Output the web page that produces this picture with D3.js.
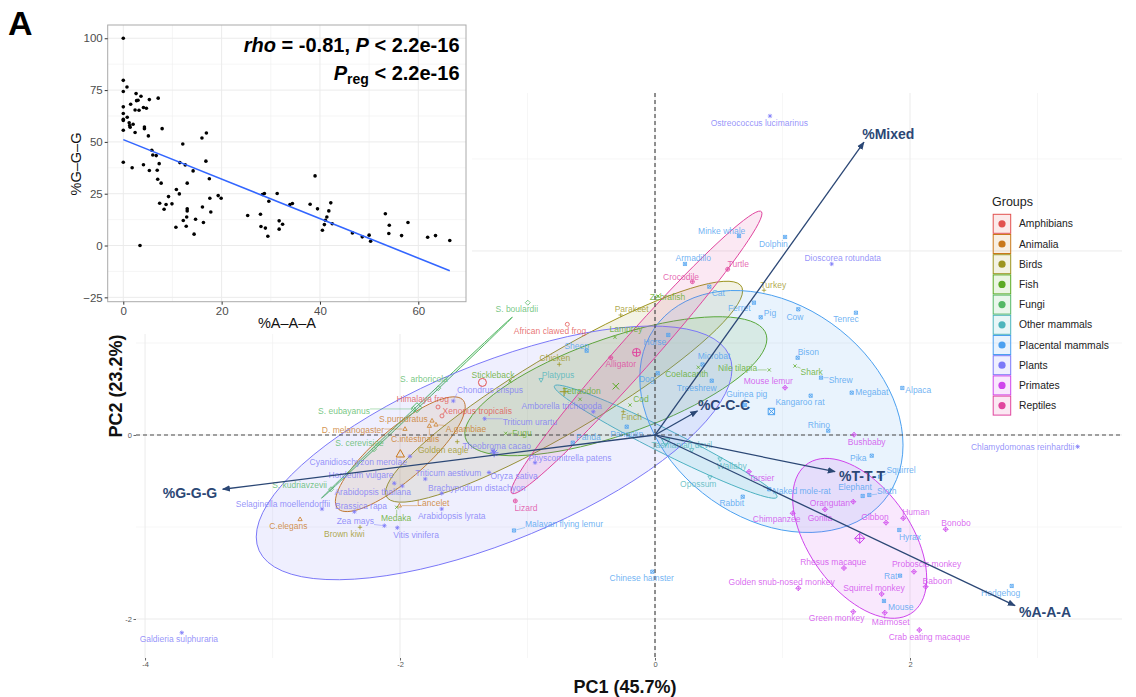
<!DOCTYPE html>
<html>
<head>
<meta charset="utf-8">
<title>PCA biplot of codon-repeat composition</title>
<script src="https://cdn.jsdelivr.net/npm/d3@7/dist/d3.min.js"></script>
<style>
  html, body { margin: 0; padding: 0; background: #fff; }
  svg { display: block; font-family: "Liberation Sans", Arial, Helvetica, sans-serif; }
</style>
</head>
<body>
<svg id="fig" width="1136" height="697"></svg>
<script>
// ---------------- data ----------------
const groupNames = ["Amphibians", "Animalia", "Birds", "Fish", "Fungi", "Other mammals",
  "Placental mammals", "Plants", "Primates", "Reptiles"];
const groupColours = ["#E2524F", "#C9781B", "#9C9420", "#5BAA23", "#55B866", "#4DB5BC",
  "#4BA0F0", "#7B78F8", "#CF45EC", "#E0459E"];
const groupShapes = [1, 2, 3, 4, 5, 6, 7, 8, 9, 10];   // ggplot shape codes

const speciesName = [
  "Himalaya frog", "Xenopus tropicalis", "African clawed frog",
  "S.purpuratus", "D. melanogaster", "A.gambiae", "C.intestinalis", "Lancelet", "C.elegans",
  "Golden eagle", "Brown kiwi", "Chicken", "Parakeet", "Finch", "Turkey",
  "Stickleback", "Fugu", "Medaka", "Tetraodon", "Zebrafish", "Lamprey", "Coelacanth", "Cod", "Nile tilapia", "Shark",
  "S. boulardii", "S. arboricola", "S. eubayanus", "S. cerevisiae", "S. kudriavzevii",
  "Platypus", "Tasmanian devil", "Wallaby", "Opossum",
  "Malayan flying lemur", "Panda", "Sheep", "Horse", "Dog", "Microbat", "Treeshrew", "Pangolin", "Rabbit",
  "Naked mole-rat", "Elephant", "Sloth", "Squirrel", "Pika", "Hyrax", "Rat", "Mouse", "Hedgehog",
  "Chinese hamster", "Minke whale", "Dolphin", "Armadillo", "Cat", "Ferret", "Pig", "Cow", "Tenrec",
  "Bison", "Shrew", "Megabat", "Alpaca", "Guinea pig", "Kangaroo rat", "Rhino",
  "Chondrus crispus", "Cyanidioschyzon merolae", "Triticum aestivum", "Oryza sativa", "Hordeum vulgare",
  "Arabidopsis thaliana", "Brachypodium distachyon", "Selaginella moellendorffii", "Brassica rapa",
  "Arabidopsis lyrata", "Zea mays", "Vitis vinifera", "Theobroma cacao", "Triticum urartu",
  "Amborella trichopoda", "Physcomitrella patens", "Ostreococcus lucimarinus", "Dioscorea rotundata",
  "Chlamydomonas reinhardtii", "Galdieria sulphuraria",
  "Tarsier", "Chimpanzee", "Gorilla", "Orangutan", "Bushbaby", "Mouse lemur", "Gibbon", "Human", "Bonobo",
  "Rhesus macaque", "Proboscis monkey", "Baboon", "Golden snub-nosed monkey", "Squirrel monkey",
  "Green monkey", "Marmoset", "Crab eating macaque",
  "Crocodile", "Turtle", "Alligator", "Lizard"
];
const speciesGroup = [
  ...Array(3).fill("Amphibians"), ...Array(6).fill("Animalia"), ...Array(6).fill("Birds"),
  ...Array(10).fill("Fish"), ...Array(5).fill("Fungi"), ...Array(4).fill("Other mammals"),
  ...Array(34).fill("Placental mammals"), ...Array(20).fill("Plants"), ...Array(17).fill("Primates"),
  ...Array(4).fill("Reptiles")
];
const pc1 = [
  -1.702, -1.671, -0.688,
  -1.749, -1.961, -1.718, -1.770, -2.005, -2.784,
  -1.551, -2.314, -0.751, -0.269, -0.249, 0.855,
  -1.137, -1.171, -2.026, -0.588, 0.024, -0.314, 0.340, -0.196, 0.896, 1.098,
  -0.998, -1.700, -1.894, -2.204, -2.541,
  -0.894, 0.288, 0.510, 0.431,
  -1.106, -0.645, -0.536, 0.104, 0.021, 0.373, 0.445, -0.222, 0.688,
  0.896, 1.629, 1.681, 1.765, 1.700, 1.916, 1.922, 1.796, 2.798,
  -0.021, 0.659, 1.020, 0.235, 0.426, 0.776, 0.829, 1.124, 1.576,
  1.119, 1.302, 1.543, 1.940, 0.706, 1.221, 1.359,
  -1.582, -1.922, -1.802, -1.302, -2.045,
  -1.982, -1.673, -2.612, -2.358,
  -1.673, -2.123, -2.021, -1.271, -1.336,
  -0.484, -0.941, 0.902, 1.386,
  3.315, -3.712,
  0.737, 1.080, 1.333, 1.555, 1.561, 1.020, 1.812, 1.947, 2.280,
  1.482, 2.031, 2.123, 1.124, 1.778,
  1.555, 1.802, 2.073,
  0.293, 0.570, -0.347, -1.096
];
const pc2 = [
  0.304, 0.207, 1.203,
  0.155, 0.065, 0.112, 0.098, -0.768, -0.916,
  -0.073, -1.003, 0.768, 1.304, 0.253, 1.573,
  0.587, 0.018, -0.786, 0.388, 1.511, 1.062, 0.736, 0.326, 0.707, 0.750,
  1.438, 0.508, 0.283, -0.155, -0.590,
  0.598, -0.163, -0.264, -0.460,
  -1.038, -0.084, 0.916, 1.087, 0.671, 0.766, 0.590, 0.090, -0.671,
  -0.590, -0.663, -0.652, -0.453, -0.225, -1.033, -1.529, -1.804, -1.641,
  -1.486, 2.163, 2.152, 1.859, 1.612, 1.438, 1.279, 1.366, 1.329,
  0.840, 0.623, 0.460, 0.511, 0.326, 0.427, 0.047,
  0.370, -0.232, -0.478, -0.408, -0.525,
  -0.554, -0.634, -0.804, -0.834,
  -0.804, -0.986, -1.008, -0.174, 0.177,
  0.253, -0.301, 3.467, 1.859,
  -0.127, -2.149,
  -0.399, -0.851, -0.808, -0.725, 0.003, 0.514, -0.953, -0.905, -1.025,
  -1.446, -1.486, -1.649, -1.666, -1.728,
  -1.921, -1.932, -2.120,
  1.666, 1.801, 0.840, -0.717
];

// variable loadings drawn as arrows
const variableName = ["%Mixed", "%C-C-C", "%T-T-T", "%A-A-A", "%G-G-G"];
const variablePC1 = [1.639, 0.333, 1.412, 2.824, -3.391];
const variablePC2 = [3.182, 0.261, -0.399, -1.855, -0.590];

// inset scatter: %A-A-A vs %G-G-G
const pctAAA = [0, 0, 0, 0.75, 0, 0, 0, 0, 0, 0.8, 1.5, 1.2, 1.3, 1.4, 2.0, 2.4, 2.6, 2.7, 3.0, 2.4,
  3.2, 3.6, 4.1, 4.7, 4.3, 4.3, 5.3, 5.1, 7.1, 7.9,
  0, 1.8, 4.1, 5.8, 6.0, 6.7, 7.3, 5.3, 6.9, 7.0, 7.7, 7.4, 8.3, 8.7, 9.2, 9.9, 10.7, 10.8, 11.4, 11.5,
  12.1, 12.2, 12.6, 12.9, 12.8, 13.0, 13.0, 13.0, 14.2, 14.4, 14.7, 16.0, 16.1, 16.3, 16.9, 16.8, 17.5,
  17.6, 17.8, 19.3, 19.9,
  3.4, 25.3, 27.9, 28.0, 28.3, 28.7, 28.9, 29.4, 29.6, 31.3, 31.7, 31.7, 32.4, 33.9, 34.4, 38.0, 39.0,
  39.5, 40.5, 40.9, 41.1, 41.4, 41.8, 42.2, 42.5, 46.6, 48.6, 50.0, 50.3, 53.3, 54.1, 54.0, 56.6, 57.9,
  61.9, 63.5, 66.4];
const pctGGG = [100, 79.7, 74.3, 76.5, 66.9, 63.7, 60.9, 60.3, 55.6, 61.9, 68.2, 59.2, 57.9, 57.1, 58.5,
  54.5, 73.3, 69.9, 70.1, 65.4, 65.3, 72, 66.6, 66.2, 57.2, 56.4, 70.4, 52.9, 71.1, 56.4,
  40.2, 37.5, 39, 46, 43.7, 43.4, 39.5, 36.2, 36.3, 32, 30.1, 20.4, 17.5, 19.8, 23.6, 20.1, 8.8, 27, 24.9,
  40, 49, 12.1, 38.9, 13.8, 9.3, 30.1, 17.7, 16.7, 36, 5.5, 12.7, 51.9, 18.6, 11.1, 54.3, 40.7, 32.2,
  22.8, 16.2, 24.1, 22.8,
  0, 14.5, 15.1, 9.2, 24.6, 25.1, 8.4, 4.5, 21.4, 25.1, 11.9, 7.9, 10.3, 19.8, 20.3, 19.9, 33.6, 17.7,
  7.4, 10.1, 12.2, 13.8, 16.7, 20.6, 10.5, 6.1, 4.2, 5, 2.1, 15.3, 9.8, 5.8, 4.8, 11.1, 4, 4.8, 2.4];
const fitIntercept = 51.1;
const fitSlope = -0.953;

const xTicksMain = [-4, -2, 0, 2];
const yTicksMain = [-2, 0, 2];
const xTicksInset = [0, 20, 40, 60];
const yTicksInset = [-25, 0, 25, 50, 75, 100];

// label placement (pixel nudges from each point, repel-style)
const labelNudge = {
  "Himalaya frog": [-15.3, -8], "Xenopus tropicalis": [35.3, -5.3], "African clawed frog": [-17.3, 6.7],
  "S.purpuratus": [-28.7, -2], "D. melanogaster": [-52, 1], "A.gambiae": [30, 4.3], "C.intestinalis": [-14.3, 13],
  "Lancelet": [34, -2.4], "C.elegans": [-11.7, 6.4],
  "Golden eagle": [-14, 8.3], "Brown kiwi": [-15.7, 6.7], "Chicken": [-4.3, -6], "Parakeet": [11, -5.7],
  "Finch": [8.4, 5.6], "Turkey": [9.3, -5.3],
  "Stickleback": [-17, -6], "Fugu": [16.3, -0.3], "Medaka": [-0.7, 10.7], "Tetraodon": [1.7, -8.3],
  "Zebrafish": [9.5, 1.3], "Lamprey": [11, -8], "Coelacanth": [-11.6, 6.7], "Cod": [11, -6],
  "Nile tilapia": [-31.6, -2.3], "Shark": [16.7, 5.7],
  "S. boulardii": [-11, 6.6], "S. arboricola": [-14.3, -9.3], "S. eubayanus": [-69.5, 1.7],
  "S. cerevisiae": [-14.5, -6], "S. kudriavzevii": [-31.5, -4.3],
  "Platypus": [17, -5], "Tasmanian devil": [-10, -5], "Wallaby": [11.7, 6.7], "Opossum": [-11.7, 7],
  "Malayan flying lemur": [50, -6.5], "Panda": [15.6, -6], "Sheep": [-10, -5], "Horse": [-13.3, 6.7],
  "Dog": [-11, 5.7], "Microbat": [11.5, -8.5], "Treeshrew": [-15, 7], "Pangolin": [0, 7.3], "Rabbit": [-11, 6.6],
  "Naked mole-rat": [32.4, 1.7], "Elephant": [-7.7, -9.3], "Sloth": [17.4, -4.3], "Squirrel": [21, -6.5],
  "Pika": [-13.4, 2.6], "Hyrax": [10.7, 6.7], "Rat": [-9.3, 0], "Mouse": [16.7, 5.7], "Hedgehog": [-11, 7.3],
  "Chinese hamster": [-10.6, 6.6], "Minke whale": [-17.3, -5.3], "Dolphin": [-11.7, 7], "Armadillo": [8.3, -5.7],
  "Cat": [9, 6], "Ferret": [-14.7, 5], "Pig": [9.3, -4], "Cow": [-3.3, 8], "Tenrec": [-10, 6.6],
  "Bison": [10.6, -5.7], "Shrew": [19.7, 2.3], "Megabat": [20, -0.4], "Alpaca": [16, 2], "Guinea pig": [1.7, -11],
  "Kangaroo rat": [-10.7, 6.6], "Rhino": [-9.3, -5.7],
  "Chondrus crispus": [36.7, -11], "Cyanidioschyzon merolae": [-51.7, 6], "Triticum aestivum": [23, -5.7],
  "Oryza sativa": [25, 3], "Hordeum vulgare": [-33.3, -8.3], "Arabidopsis thaliana": [-29.6, 6.3],
  "Brachypodium distachyon": [35, -5.6], "Selaginella moellendorffii": [-39, -5.3], "Brassica rapa": [6.7, -5.7],
  "Arabidopsis lyrata": [10, 6.7], "Zea mays": [-29, -4.7], "Vitis vinifera": [18.7, 7.3],
  "Theobroma cacao": [3.7, -5.3], "Triticum urartu": [45.3, 3.6], "Amborella trichopoda": [-31.6, -5.7],
  "Physcomitrella patens": [35, -5], "Ostreococcus lucimarinus": [-10.7, 7.3], "Dioscorea rotundata": [11, -5.7],
  "Chlamydomonas reinhardtii": [-55, 0.6], "Galdieria sulphuraria": [-2.9, 6.3],
  "Tarsier": [12.7, 6.6], "Chimpanzee": [-16, 6], "Gorilla": [-5, 9], "Orangutan": [-23.3, 1.6],
  "Bushbaby": [12.7, 7.6], "Mouse lemur": [-16.7, -6.7], "Gibbon": [-11, -6], "Human": [12.7, -6.6],
  "Bonobo": [10.3, -6], "Rhesus macaque": [-10.7, -5.7], "Proboscis monkey": [12.7, -7.4], "Baboon": [11.6, -6],
  "Golden snub-nosed monkey": [-16.6, -6], "Squirrel monkey": [-7.7, -5.7], "Green monkey": [-16.6, 6.6],
  "Marmoset": [6, 9.6], "Crab eating macaque": [10, 6.7],
  "Crocodile": [-11.3, -5], "Turtle": [10.6, -5.3], "Alligator": [10, 6.6], "Lizard": [10.7, 7]
};
const variableLabelNudge = [[24.3, -8], [26.5, -6], [27, 4], [30, 6], [-32.7, 3.4]];

// ---------------- drawing ----------------
const svg = d3.select("#fig");
const arrowColour = "#2B4775";
const ellipseLevel = 0.5;

const px = d3.scaleLinear().domain([-4.071, 3.663]).range([136, 1122]);
const py = d3.scaleLinear().domain([-2.424, 3.717]).range([658, 93]);
const [pxL, pxR] = px.range();
const [pyB, pyT] = py.range();

// ggplot point shapes 1..10 as outline paths
function shapePath(k, s) {
  const circle = r => `M${-r},0A${r},${r} 0 1,0 ${r},0A${r},${r} 0 1,0 ${-r},0Z`;
  const plus = r => `M${-r},0H${r}M0,${-r}V${r}`;
  const cross = r => `M${-r},${-r}L${r},${r}M${-r},${r}L${r},${-r}`;
  const diamond = r => `M0,${-r}L${r},0L0,${r}L${-r},0Z`;
  const d = s * 0.8;
  switch (k) {
    case 1: return circle(s);
    case 2: return `M0,${-s * 1.15}L${s * 1.05},${s * 0.7}L${-s * 1.05},${s * 0.7}Z`;
    case 3: return plus(s * 1.1);
    case 4: return cross(d);
    case 5: return diamond(s * 1.25);
    case 6: return `M0,${s * 1.15}L${s * 1.05},${-s * 0.7}L${-s * 1.05},${-s * 0.7}Z`;
    case 7: return `M${-d},${-d}H${d}V${d}H${-d}Z` + cross(d);
    case 8: return plus(s * 1.1) + cross(d);
    case 9: return diamond(s * 1.25) + plus(s * 1.25);
    default: return circle(s) + plus(s);
  }
}

// --- grid ---
const gGrid = svg.append("g");
[-3, -1, 1, 3].forEach(v => gGrid.append("line").attr("x1", px(v)).attr("x2", px(v))
  .attr("y1", pyT).attr("y2", pyB).attr("stroke", "#f2f2f2").attr("stroke-width", 0.7));
[-1, 1, 3].forEach(v => gGrid.append("line").attr("x1", pxL).attr("x2", pxR)
  .attr("y1", py(v)).attr("y2", py(v)).attr("stroke", "#f2f2f2").attr("stroke-width", 0.7));
xTicksMain.forEach(v => gGrid.append("line").attr("x1", px(v)).attr("x2", px(v))
  .attr("y1", pyT).attr("y2", pyB).attr("stroke", "#ebebeb").attr("stroke-width", 1));
yTicksMain.forEach(v => gGrid.append("line").attr("x1", pxL).attr("x2", pxR)
  .attr("y1", py(v)).attr("y2", py(v)).attr("stroke", "#ebebeb").attr("stroke-width", 1));

// --- group ellipses (normal, ggplot stat_ellipse style) ---
function qf2(p, d) { return (d / 2) * (Math.pow(1 - p, -2 / d) - 1); }
const centroids = [];
const gEll = svg.append("g");
groupNames.forEach((gname, gi) => {
  const idx = speciesGroup.map((g, i) => g === gname ? i : -1).filter(i => i >= 0);
  const n = idx.length;
  const xs = idx.map(i => pc1[i]), ys = idx.map(i => pc2[i]);
  const mx = d3.mean(xs), my = d3.mean(ys);
  centroids.push({ gi, mx, my });
  if (n - 1 < 3) return;
  const sxx = d3.sum(xs, v => (v - mx) ** 2) / (n - 1);
  const syy = d3.sum(ys, v => (v - my) ** 2) / (n - 1);
  const sxy = d3.sum(idx, (i, k) => (xs[k] - mx) * (ys[k] - my)) / (n - 1);
  const r = Math.sqrt(2 * qf2(ellipseLevel, n - 1));
  const R11 = Math.sqrt(sxx), R12 = sxy / R11, R22 = Math.sqrt(Math.max(syy - R12 * R12, 0));
  const pts = d3.range(80).map(k => {
    const t = 2 * Math.PI * k / 80, c = Math.cos(t), s = Math.sin(t);
    return [px(mx + r * c * R11), py(my + r * (c * R12 + s * R22))];
  });
  gEll.append("path").attr("d", d3.line().curve(d3.curveLinearClosed)(pts))
    .attr("fill", groupColours[gi]).attr("fill-opacity", 0.12)
    .attr("stroke", groupColours[gi]).attr("stroke-width", 1);
});

// --- zero reference lines ---
svg.append("line").attr("x1", pxL).attr("x2", pxR).attr("y1", py(0)).attr("y2", py(0))
  .attr("stroke", "#4a4a4a").attr("stroke-width", 1.2).attr("stroke-dasharray", "4,3");
svg.append("line").attr("x1", px(0)).attr("x2", px(0)).attr("y1", pyT).attr("y2", pyB)
  .attr("stroke", "#4a4a4a").attr("stroke-width", 1.2).attr("stroke-dasharray", "4,3");

// --- individuals: points, repel segments, labels ---
const gPts = svg.append("g"), gSeg = svg.append("g"), gLab = svg.append("g");
speciesName.forEach((name, i) => {
  const gi = groupNames.indexOf(speciesGroup[i]);
  const col = groupColours[gi];
  const sx = px(pc1[i]), sy = py(pc2[i]);
  gPts.append("path").attr("transform", `translate(${sx},${sy})`)
    .attr("d", shapePath(groupShapes[gi], 2)).attr("fill", "none")
    .attr("stroke", col).attr("stroke-width", 0.75);
  const nd = labelNudge[name] || [0, -8];
  const t = gLab.append("text").attr("x", sx + nd[0]).attr("y", sy + nd[1])
    .attr("text-anchor", "middle").attr("dominant-baseline", "central")
    .attr("font-size", 8.5).attr("fill", col).attr("fill-opacity", 0.8).text(name);
  const b = t.node().getBBox();
  const cx = Math.max(b.x, Math.min(sx, b.x + b.width));
  const cy = Math.max(b.y + 1.5, Math.min(sy, b.y + b.height - 1.5));
  const dist = Math.hypot(cx - sx, cy - sy);
  if (dist > 6) {
    const f = 2.5 / dist;
    gSeg.append("line").attr("x1", sx + (cx - sx) * f).attr("y1", sy + (cy - sy) * f)
      .attr("x2", cx).attr("y2", cy).attr("stroke", col).attr("stroke-opacity", 0.75)
      .attr("stroke-width", 0.6);
  }
});

// --- group mean points ---
centroids.forEach(c => {
  svg.append("path").attr("transform", `translate(${px(c.mx)},${py(c.my)})`)
    .attr("d", shapePath(groupShapes[c.gi], 4)).attr("fill", "none")
    .attr("stroke", groupColours[c.gi]).attr("stroke-width", 1);
});

// --- variable arrows ---
svg.append("defs").append("marker").attr("id", "arrowHead").attr("viewBox", "0 0 10 10")
  .attr("refX", 9).attr("refY", 5).attr("markerWidth", 8).attr("markerHeight", 8)
  .attr("markerUnits", "userSpaceOnUse").attr("orient", "auto")
  .append("path").attr("d", "M0,1L10,5L0,9Z").attr("fill", arrowColour);
const gVar = svg.append("g");
variableName.forEach((v, i) => {
  const tx = px(variablePC1[i]), ty = py(variablePC2[i]);
  gVar.append("line").attr("x1", px(0)).attr("y1", py(0)).attr("x2", tx).attr("y2", ty)
    .attr("stroke", arrowColour).attr("stroke-width", 1.3).attr("marker-end", "url(#arrowHead)");
  gVar.append("text").attr("x", tx + variableLabelNudge[i][0]).attr("y", ty + variableLabelNudge[i][1])
    .attr("text-anchor", "middle").attr("dominant-baseline", "central")
    .attr("font-size", 14).attr("font-weight", "bold").attr("fill", arrowColour).text(v);
});

// --- main axes ---
const intFmt = d => String(d);
const gx = svg.append("g").attr("transform", `translate(0,${pyB})`)
  .call(d3.axisBottom(px).tickValues(xTicksMain).tickSize(2.5).tickPadding(1.5).tickFormat(intFmt));
const gy = svg.append("g").attr("transform", `translate(${pxL},0)`)
  .call(d3.axisLeft(py).tickValues(yTicksMain).tickSize(2.5).tickPadding(1.5).tickFormat(intFmt));
[gx, gy].forEach(g => {
  g.select(".domain").remove();
  g.selectAll(".tick line").attr("stroke", "#666");
  g.selectAll(".tick text").attr("font-size", 7.5).attr("fill", "#555")
    .attr("font-family", "'Liberation Sans', Arial, sans-serif");
});
svg.append("text").attr("x", 625).attr("y", 693).attr("text-anchor", "middle")
  .attr("font-size", 18).attr("font-weight", "bold").attr("fill", "#111").text("PC1 (45.7%)");
svg.append("text").attr("transform", "translate(122,386) rotate(-90)").attr("text-anchor", "middle")
  .attr("font-size", 18).attr("font-weight", "bold").attr("fill", "#111").text("PC2 (23.2%)");

// ---------------- legend ----------------
const gLeg = svg.append("g");
gLeg.append("text").attr("x", 992).attr("y", 205.5).attr("font-size", 12.5).attr("fill", "#222").text("Groups");
groupNames.forEach((gname, gi) => {
  const top = 213.8 + gi * 20.2;
  gLeg.append("rect").attr("x", 993.2).attr("y", top + 0.5).attr("width", 17.5).attr("height", 19)
    .attr("fill", groupColours[gi]).attr("fill-opacity", 0.12)
    .attr("stroke", groupColours[gi]).attr("stroke-width", 1);
  gLeg.append("circle").attr("cx", 1002).attr("cy", top + 10).attr("r", 3.6).attr("fill", groupColours[gi]);
  gLeg.append("text").attr("x", 1019).attr("y", top + 10).attr("dominant-baseline", "central")
    .attr("font-size", 10.3).attr("fill", "#222").text(gname);
});

// ---------------- inset scatter ----------------
const gIn = svg.append("g");
gIn.append("rect").attr("x", 56).attr("y", 14).attr("width", 416).attr("height", 320).attr("fill", "#fff");
const ix = d3.scaleLinear().domain([-3.17, 69.7]).range([107.7, 466]);
const iy = d3.scaleLinear().domain([-27.1, 106.4]).range([301.7, 25]);
const [ixL, ixR] = ix.range(), [iyB, iyT] = iy.range();
[10, 30, 50].forEach(v => gIn.append("line").attr("x1", ix(v)).attr("x2", ix(v)).attr("y1", iyT).attr("y2", iyB)
  .attr("stroke", "#f0f0f0").attr("stroke-width", 0.6));
[-12.5, 12.5, 37.5, 62.5, 87.5].forEach(v => gIn.append("line").attr("x1", ixL).attr("x2", ixR)
  .attr("y1", iy(v)).attr("y2", iy(v)).attr("stroke", "#f0f0f0").attr("stroke-width", 0.6));
xTicksInset.forEach(v => gIn.append("line").attr("x1", ix(v)).attr("x2", ix(v)).attr("y1", iyT).attr("y2", iyB)
  .attr("stroke", "#ebebeb").attr("stroke-width", 1));
yTicksInset.forEach(v => gIn.append("line").attr("x1", ixL).attr("x2", ixR).attr("y1", iy(v)).attr("y2", iy(v))
  .attr("stroke", "#ebebeb").attr("stroke-width", 1));

gIn.selectAll("circle.pt").data(d3.range(pctAAA.length)).join("circle").attr("class", "pt")
  .attr("cx", i => ix(pctAAA[i])).attr("cy", i => iy(pctGGG[i])).attr("r", 1.8).attr("fill", "#000");

const fitX = d3.extent(pctAAA);
gIn.append("line").attr("x1", ix(fitX[0])).attr("y1", iy(fitIntercept + fitSlope * fitX[0]))
  .attr("x2", ix(fitX[1])).attr("y2", iy(fitIntercept + fitSlope * fitX[1]))
  .attr("stroke", "#3366FF").attr("stroke-width", 1.6);

gIn.append("rect").attr("x", ixL).attr("y", iyT).attr("width", ixR - ixL).attr("height", iyB - iyT)
  .attr("fill", "none").attr("stroke", "#aaa").attr("stroke-width", 1);

const minusFmt = d => d < 0 ? "\u2212" + Math.abs(d) : String(d);
const gix = gIn.append("g").attr("transform", `translate(0,${iyB})`)
  .call(d3.axisBottom(ix).tickValues(xTicksInset).tickSize(3).tickPadding(2).tickFormat(minusFmt));
const giy = gIn.append("g").attr("transform", `translate(${ixL},0)`)
  .call(d3.axisLeft(iy).tickValues(yTicksInset).tickSize(3).tickPadding(2).tickFormat(minusFmt));
[gix, giy].forEach(g => {
  g.select(".domain").remove();
  g.selectAll(".tick line").attr("stroke", "#333");
  g.selectAll(".tick text").attr("font-size", 11.5).attr("fill", "#4d4d4d")
    .attr("font-family", "'Liberation Sans', Arial, sans-serif");
});
gIn.append("text").attr("x", 287).attr("y", 328).attr("text-anchor", "middle")
  .attr("font-size", 14.5).attr("fill", "#111").text("%A\u2013A\u2013A");
gIn.append("text").attr("transform", "translate(81,164) rotate(-90)").attr("text-anchor", "middle")
  .attr("font-size", 14.5).attr("fill", "#111").text("%G\u2013G\u2013G");

// correlation annotation
const ann1 = gIn.append("text").attr("x", 459.5).attr("y", 51.5).attr("text-anchor", "end")
  .attr("font-size", 20).attr("font-weight", "bold").attr("fill", "#000");
ann1.append("tspan").attr("font-style", "italic").text("rho");
ann1.append("tspan").text(" = -0.81, ");
ann1.append("tspan").attr("font-style", "italic").text("P");
ann1.append("tspan").text(" < 2.2e-16");
const ann2 = gIn.append("text").attr("x", 459.5).attr("y", 80).attr("text-anchor", "end")
  .attr("font-size", 20).attr("font-weight", "bold").attr("fill", "#000");
ann2.append("tspan").attr("font-style", "italic").text("P");
ann2.append("tspan").attr("font-size", 14).attr("dy", 4).text("reg");
ann2.append("tspan").attr("dy", -4).text(" < 2.2e-16");

// panel tag
svg.append("text").attr("x", 8).attr("y", 35).attr("font-size", 34).attr("font-weight", "bold")
  .attr("fill", "#000").text("A");
</script>
</body>
</html>
